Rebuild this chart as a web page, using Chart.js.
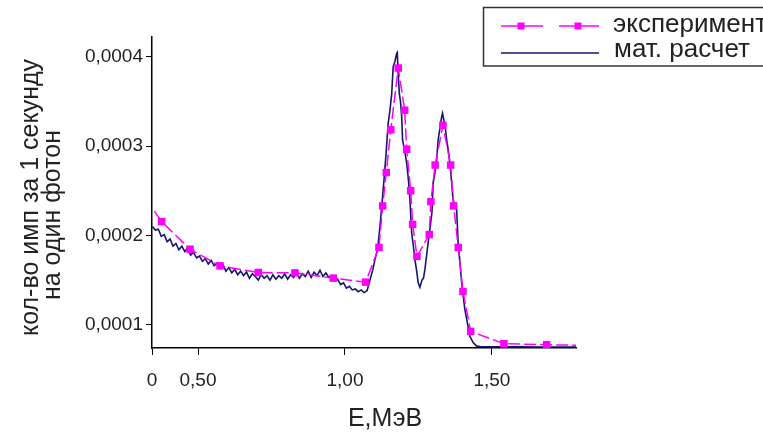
<!DOCTYPE html>
<html>
<head>
<meta charset="utf-8">
<script src="https://cdn.jsdelivr.net/npm/chart.js@4.4.1/dist/chart.umd.min.js"></script>
<style>
  body { margin: 0; background: #fff; }
  #wrap { width: 763px; height: 439px; }
</style>
</head>
<body>
<div id="wrap"><canvas id="spectrum" width="763" height="439"></canvas></div>
<script>
// x: E, MeV ; y: counts per second per photon
const calcEnergy = [
  0.345, 0.355, 0.365, 0.375, 0.385, 0.395, 0.405, 0.415, 0.425, 0.435,
  0.445, 0.455, 0.465, 0.475, 0.485, 0.495, 0.505, 0.515, 0.525, 0.535,
  0.545, 0.555, 0.565, 0.575, 0.585, 0.595, 0.605, 0.615, 0.625, 0.635,
  0.645, 0.655, 0.665, 0.675, 0.685, 0.695, 0.705, 0.715, 0.725, 0.735,
  0.745, 0.755, 0.765, 0.775, 0.785, 0.795, 0.805, 0.815, 0.825, 0.835,
  0.845, 0.855, 0.865, 0.875, 0.885, 0.895, 0.905, 0.915, 0.925, 0.935,
  0.945, 0.955, 0.965, 0.975, 0.985, 0.995, 1.005, 1.015, 1.025, 1.035,
  1.045, 1.055, 1.065, 1.075, 1.085, 1.095, 1.102, 1.111, 1.119, 1.130,
  1.139, 1.147, 1.153, 1.159, 1.164, 1.170, 1.176, 1.178, 1.181, 1.185,
  1.189, 1.193, 1.196, 1.203, 1.210, 1.216, 1.221, 1.227, 1.232, 1.238,
  1.244, 1.249, 1.255, 1.262, 1.267, 1.272, 1.283, 1.290, 1.296, 1.300,
  1.306, 1.312, 1.317, 1.323, 1.329, 1.332, 1.336, 1.341, 1.346, 1.353,
  1.360, 1.368, 1.376, 1.380, 1.385, 1.391, 1.397, 1.403, 1.408, 1.416,
  1.425, 1.436, 1.448, 1.460, 1.50, 1.55, 1.60, 1.65, 1.70, 1.75, 1.786
];
const calcCounts = [
  2.10e-4, 2.06e-4, 2.07e-4, 1.99e-4, 2.01e-4, 1.93e-4, 1.96e-4, 1.88e-4, 1.91e-4, 1.84e-4,
  1.88e-4, 1.82e-4, 1.86e-4, 1.78e-4, 1.81e-4, 1.75e-4, 1.77e-4, 1.71e-4, 1.74e-4, 1.68e-4,
  1.72e-4, 1.66e-4, 1.69e-4, 1.63e-4, 1.67e-4, 1.60e-4, 1.64e-4, 1.58e-4, 1.62e-4, 1.56e-4,
  1.60e-4, 1.55e-4, 1.59e-4, 1.52e-4, 1.57e-4, 1.54e-4, 1.50e-4, 1.56e-4, 1.52e-4, 1.55e-4,
  1.50e-4, 1.56e-4, 1.51e-4, 1.55e-4, 1.52e-4, 1.57e-4, 1.51e-4, 1.56e-4, 1.53e-4, 1.58e-4,
  1.52e-4, 1.57e-4, 1.54e-4, 1.60e-4, 1.53e-4, 1.59e-4, 1.55e-4, 1.61e-4, 1.54e-4, 1.58e-4,
  1.53e-4, 1.55e-4, 1.49e-4, 1.51e-4, 1.45e-4, 1.47e-4, 1.41e-4, 1.43e-4, 1.39e-4, 1.40e-4,
  1.37e-4, 1.39e-4, 1.36e-4, 1.38e-4, 1.50e-4, 1.62e-4, 1.73e-4, 1.85e-4, 2.10e-4, 2.51e-4,
  2.88e-4, 3.26e-4, 3.40e-4, 3.59e-4, 3.89e-4, 3.95e-4, 4.04e-4, 4.05e-4, 3.82e-4, 3.59e-4,
  3.50e-4, 3.33e-4, 3.07e-4, 2.95e-4, 2.81e-4, 2.62e-4, 2.40e-4, 2.03e-4, 1.90e-4, 1.73e-4,
  1.60e-4, 1.47e-4, 1.42e-4, 1.50e-4, 1.52e-4, 1.62e-4, 1.92e-4, 2.10e-4, 2.26e-4, 2.59e-4,
  2.70e-4, 2.85e-4, 3.07e-4, 3.20e-4, 3.33e-4, 3.37e-4, 3.30e-4, 3.22e-4, 3.07e-4, 2.92e-4,
  2.70e-4, 2.40e-4, 2.32e-4, 2.29e-4, 1.92e-4, 1.70e-4, 1.47e-4, 1.30e-4, 1.17e-4, 1.03e-4,
  0.87e-4, 0.80e-4, 0.76e-4, 0.755e-4, 0.753e-4, 0.752e-4, 0.752e-4, 0.751e-4, 0.751e-4, 0.750e-4, 0.750e-4
];

const expEnergy = [
  0.320, 0.3765, 0.4728, 0.5748, 0.7051, 0.8299, 0.9602, 1.0704, 1.1156, 1.1282,
  1.1405, 1.1558, 1.1813, 1.2031, 1.2099, 1.2235, 1.2303, 1.2449, 1.2867, 1.2922,
  1.3068, 1.3333, 1.3595, 1.3697, 1.3854, 1.4014, 1.4276, 1.5408, 1.6861, 1.800
];
const expCounts = [
  2.42e-4, 2.155e-4, 1.846e-4, 1.660e-4, 1.585e-4, 1.581e-4, 1.522e-4, 1.477e-4, 1.866e-4, 2.331e-4,
  2.705e-4, 3.184e-4, 3.876e-4, 3.404e-4, 2.966e-4, 2.502e-4, 2.124e-4, 1.766e-4, 2.010e-4, 2.379e-4,
  2.789e-4, 3.236e-4, 2.789e-4, 2.331e-4, 1.866e-4, 1.372e-4, 0.925e-4, 0.787e-4, 0.776e-4, 0.769e-4
];

const xTickValues = [0.3435, 0.5, 1.0, 1.5];
const xTickLabels = ['0', '0,50', '1,00', '1,50'];
const seriesNames = ['эксперимент', 'мат. расчет'];
const xTitle = 'E,МэВ';
const yTitle = ['кол-во имп за 1 секунду', 'на один фотон'];

const FONT = "'Liberation Sans', Arial, sans-serif";
const TEXT = '#222';
const MAGENTA = '#ff00ff';
const NAVY = '#15156e';

// excel style legend box and axis titles, drawn by hand
const legendBox = {
  id: 'legendBox',
  afterDraw(chart) {
    const ctx = chart.ctx;
    const area = chart.chartArea;
    ctx.save();
    ctx.strokeStyle = '#333';
    ctx.lineWidth = 1.5;
    ctx.strokeRect(483.5, 7.5, 300, 58.5);

    ctx.strokeStyle = MAGENTA;
    ctx.fillStyle = MAGENTA;
    ctx.lineWidth = 1.5;
    [[501, 543, 521], [559, 599, 578]].forEach(([a, b, m]) => {
      ctx.beginPath();
      ctx.moveTo(a, 26);
      ctx.lineTo(b, 26);
      ctx.stroke();
      ctx.fillRect(m - 3.5, 22.5, 7, 7);
    });

    ctx.strokeStyle = NAVY;
    ctx.beginPath();
    ctx.moveTo(501, 53);
    ctx.lineTo(599, 53);
    ctx.stroke();

    ctx.fillStyle = TEXT;
    ctx.font = '26px ' + FONT;
    ctx.textBaseline = 'alphabetic';
    ctx.fillText(seriesNames[0], 613, 31.5);
    ctx.fillText(seriesNames[1], 614, 57);

    // axis titles
    ctx.font = '25px ' + FONT;
    ctx.textAlign = 'center';
    ctx.textBaseline = 'middle';
    ctx.fillText(xTitle, (area.left + area.right) / 2 + 21, 419.5);

    ctx.save();
    ctx.translate(31, 197.5);
    ctx.rotate(-Math.PI / 2);
    ctx.fillText(yTitle[0], 0, 0);
    ctx.restore();
    ctx.save();
    ctx.translate(53, 215);
    ctx.rotate(-Math.PI / 2);
    ctx.fillText(yTitle[1], 0, 0);
    ctx.restore();

    ctx.restore();
  }
};

new Chart(document.getElementById('spectrum'), {
  type: 'line',
  data: {
    datasets: [
      {
        label: seriesNames[0],
        data: expEnergy.map((x, i) => ({ x, y: expCounts[i] })),
        borderColor: MAGENTA,
        backgroundColor: MAGENTA,
        borderWidth: 1.5,
        borderDash: [12, 4],
        pointStyle: 'rect',
        pointRadius: 5.3,
        pointBorderWidth: 0,
        tension: 0
      },
      {
        label: seriesNames[1],
        data: calcEnergy.map((x, i) => ({ x, y: calcCounts[i] })),
        borderColor: NAVY,
        backgroundColor: NAVY,
        borderWidth: 1.6,
        pointRadius: 0,
        tension: 0
      }
    ]
  },
  options: {
    responsive: false,
    animation: false,
    layout: { padding: { left: 0, top: 37, right: 187, bottom: 0 } },
    plugins: {
      legend: { display: false },
      tooltip: { enabled: false }
    },
    scales: {
      x: {
        type: 'linear',
        min: 0.3435,
        max: 1.786,
        afterBuildTicks: axis => {
          axis.ticks = xTickValues.map(v => ({ value: v }));
        },
        afterFit: scale => { scale.height = 91; },
        grid: { drawOnChartArea: false, drawTicks: true, tickLength: 7, color: '#000' },
        border: { display: true, color: '#000', width: 1.5 },
        ticks: {
          autoSkip: false,
          maxRotation: 0,
          padding: 14,
          color: TEXT,
          font: { family: FONT, size: 19 },
          callback: (v, i) => xTickLabels[i]
        }
      },
      y: {
        min: 0.739e-4,
        max: 4.224e-4,
        afterFit: scale => { scale.width = 152; },
        grid: { drawOnChartArea: false, drawTicks: true, tickLength: 6, color: '#000' },
        border: { display: true, color: '#000', width: 1.5 },
        ticks: {
          stepSize: 1e-4,
          includeBounds: false,
          padding: 3,
          color: TEXT,
          font: { family: FONT, size: 19 },
          callback: v => v.toFixed(4).replace('.', ',')
        }
      }
    }
  },
  plugins: [legendBox]
});
</script>
</body>
</html>
